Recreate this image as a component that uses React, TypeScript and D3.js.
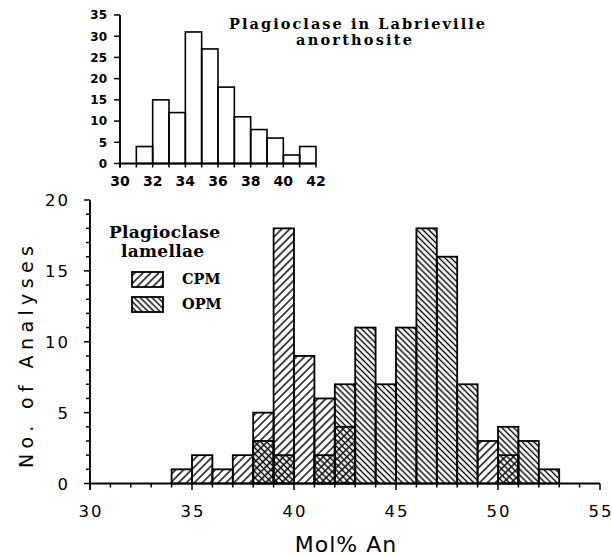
import * as d3 from "d3";

// inset: plagioclase in Labrieville anorthosite
const insetBins = [30, 31, 32, 33, 34, 35, 36, 37, 38, 39, 40, 41];
const insetCounts = [0, 4, 15, 12, 31, 27, 18, 11, 8, 6, 2, 4];
const insetXTicks = [30, 32, 34, 36, 38, 40, 42];
const insetYTicks = [0, 5, 10, 15, 20, 25, 30, 35];

// main: plagioclase lamellae
const mainBins = [34, 35, 36, 37, 38, 39, 40, 41, 42, 43, 44, 45, 46, 47, 48, 49, 50, 51, 52];
const cpmCounts = [1, 2, 1, 2, 5, 18, 9, 6, 4, 0, 0, 0, 0, 0, 0, 3, 2, 0, 0];
const opmCounts = [0, 0, 0, 0, 3, 2, 0, 2, 7, 11, 7, 11, 18, 16, 7, 0, 4, 3, 1];
const mainXTicks = [30, 35, 40, 45, 50, 55];
const mainYTicks = [0, 5, 10, 15, 20];

const W = 612;
const H = 556;

const serif = "'DejaVu Serif', 'Liberation Serif', serif";
const sans = "'DejaVu Sans', sans-serif";

export default function App() {
  const x = d3.scaleLinear().domain([30, 55]).range([90, 600]);
  const y = d3.scaleLinear().domain([0, 20]).range([483.5, 200]);

  const ix = d3.scaleLinear().domain([30, 42]).range([120, 316]);
  const iy = d3.scaleLinear().domain([0, 35]).range([163.5, 15]);

  const minorX = d3.range(30, 56, 1);
  const minorY = d3.range(0, 21, 1);
  const insetMinorX = d3.range(30, 43, 1);

  return (
    <svg
      width={W}
      height={H}
      style={{ position: "absolute", left: 0, top: 0, background: "#fff" }}
    >
      <defs>
        <pattern
          id="cpm"
          patternUnits="userSpaceOnUse"
          width={5.6}
          height={10}
          patternTransform="rotate(45)"
        >
          <line x1={2.8} y1={0} x2={2.8} y2={10} stroke="#000" strokeWidth={1.4} />
        </pattern>
        <pattern
          id="opm"
          patternUnits="userSpaceOnUse"
          width={4.2}
          height={10}
          patternTransform="rotate(-45)"
        >
          <line x1={2.1} y1={0} x2={2.1} y2={10} stroke="#000" strokeWidth={1.4} />
        </pattern>
      </defs>

      {/* ---------- inset ---------- */}
      <g>
        {insetBins.map((b, i) =>
          insetCounts[i] > 0 ? (
            <rect
              key={b}
              x={ix(b)}
              y={iy(insetCounts[i])}
              width={ix(b + 1) - ix(b)}
              height={iy(0) - iy(insetCounts[i])}
              fill="none"
              stroke="#000"
              strokeWidth={1.6}
            />
          ) : null
        )}
        <line x1={ix(30)} x2={ix(42)} y1={iy(0)} y2={iy(0)} stroke="#000" strokeWidth={1.9} />
        <line x1={ix(30)} x2={ix(30)} y1={iy(0) + 4} y2={iy(35)} stroke="#000" strokeWidth={1.9} />
        {insetMinorX.map((t) => (
          <line key={t} x1={ix(t)} x2={ix(t)} y1={iy(0)} y2={iy(0) + 4} stroke="#000" strokeWidth={1.5} />
        ))}
        {insetYTicks.map((t) => (
          <g key={t}>
            <line x1={ix(30) - 6} x2={ix(30)} y1={iy(t)} y2={iy(t)} stroke="#000" strokeWidth={1.5} />
            <text
              x={107}
              y={iy(t) + 4.3}
              textAnchor="end"
              fontFamily={sans}
              fontWeight="bold"
              fontSize={12}
            >
              {t}
            </text>
          </g>
        ))}
        {insetXTicks.map((t) => (
          <text
            key={t}
            x={ix(t)}
            y={186}
            textAnchor="middle"
            fontFamily={sans}
            fontWeight="bold"
            fontSize={14}
          >
            {t}
          </text>
        ))}
        <text x={229} y={28.5} fontFamily={serif} fontWeight="bold" fontSize={14.5} textLength={256} lengthAdjust="spacing">
          Plagioclase in Labrieville
        </text>
        <text x={296} y={44.5} fontFamily={serif} fontWeight="bold" fontSize={14.5} textLength={116} lengthAdjust="spacing">
          anorthosite
        </text>
      </g>

      {/* ---------- main bars ---------- */}
      <g>
        {mainBins.map((b, i) => (
          <g key={b}>
            {cpmCounts[i] > 0 && (
              <rect
                x={x(b)}
                y={y(cpmCounts[i])}
                width={x(b + 1) - x(b)}
                height={y(0) - y(cpmCounts[i])}
                fill="url(#cpm)"
                stroke="#000"
                strokeWidth={1.8}
              />
            )}
            {opmCounts[i] > 0 && (
              <rect
                x={x(b)}
                y={y(opmCounts[i])}
                width={x(b + 1) - x(b)}
                height={y(0) - y(opmCounts[i])}
                fill="url(#opm)"
                stroke="#000"
                strokeWidth={1.8}
              />
            )}
          </g>
        ))}
      </g>

      {/* ---------- main axes ---------- */}
      <g>
        <line x1={x(30)} x2={x(55)} y1={y(0)} y2={y(0)} stroke="#000" strokeWidth={1.9} />
        <line x1={x(30)} x2={x(30)} y1={y(0) + 6} y2={y(20)} stroke="#000" strokeWidth={1.9} />
        {minorX.map((t) => (
          <line
            key={t}
            x1={x(t)}
            x2={x(t)}
            y1={y(0)}
            y2={y(0) + (t % 5 === 0 ? 6.5 : 4)}
            stroke="#000"
            strokeWidth={1.5}
          />
        ))}
        {minorY.map((t) => (
          <line
            key={t}
            x1={x(30) - (t % 5 === 0 ? 6 : 4)}
            x2={x(30)}
            y1={y(t)}
            y2={y(t)}
            stroke="#000"
            strokeWidth={1.5}
          />
        ))}
        {mainXTicks.map((t) => (
          <text
            key={t}
            x={x(t) + 1}
            y={517}
            textAnchor="middle"
            fontFamily={sans}
            fontSize={16.5}
            letterSpacing={2}
          >
            {t}
          </text>
        ))}
        {mainYTicks.map((t) => (
          <text
            key={t}
            x={70}
            y={y(t) + 6}
            textAnchor="end"
            fontFamily={sans}
            fontSize={16.5}
            letterSpacing={2}
          >
            {t}
          </text>
        ))}
        <text
          transform="translate(33,357) rotate(-90)"
          textAnchor="middle"
          fontFamily={sans}
          fontSize={19}
          textLength={222}
          lengthAdjust="spacing"
        >
          No. of Analyses
        </text>
        <text x={346} y={552} textAnchor="middle" fontFamily={sans} fontSize={22} letterSpacing={1}>
          Mol% An
        </text>
      </g>

      {/* ---------- legend ---------- */}
      <g fontFamily={serif} fontWeight="bold">
        <text x={164.5} y={238} textAnchor="middle" fontSize={17} textLength={111} lengthAdjust="spacing">
          Plagioclase
        </text>
        <text x={162.5} y={257} textAnchor="middle" fontSize={17} textLength={83} lengthAdjust="spacing">
          lamellae
        </text>
        <rect x={132} y={272} width={31} height={15} fill="url(#cpm)" stroke="#000" strokeWidth={1.8} />
        <rect x={132} y={297} width={31} height={15} fill="url(#opm)" stroke="#000" strokeWidth={1.8} />
        <text x={182} y={284} fontSize={14.5}>
          CPM
        </text>
        <text x={182} y={309} fontSize={14.5}>
          OPM
        </text>
      </g>
    </svg>
  );
}
